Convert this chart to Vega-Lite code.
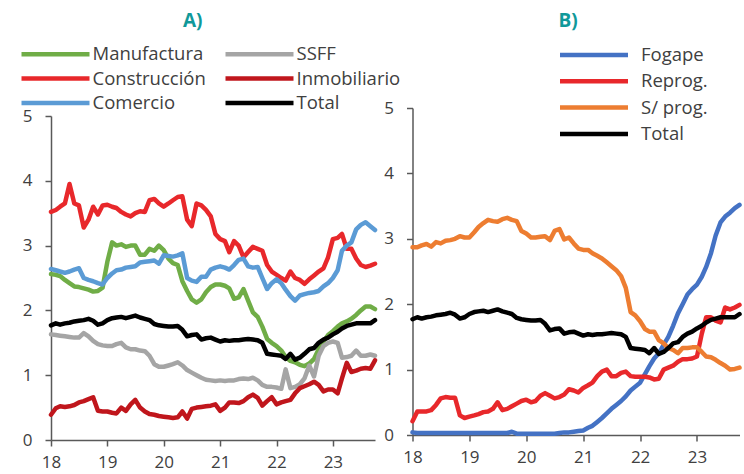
{
"$schema": "https://vega.github.io/schema/vega-lite/v6.json",
"padding": {"left": 22, "top": 12, "right": 0, "bottom": 0},
"spacing": -17.5,
"align": "none",
"data": {"format": {"parse": {"d": "utc:'%Y-%m'"}}, "values": [
{"d":"2018-01","Manufactura":2.56,"SSFF":1.63,"Construcción":3.52,"Inmobiliario":0.39,"Comercio":2.64,"Total":1.77,"Fogape":0.04,"Reprog":0.21,"SProg":2.87},
{"d":"2018-02","Manufactura":2.55,"SSFF":1.62,"Construcción":3.55,"Inmobiliario":0.49,"Comercio":2.62,"Total":1.80,"Fogape":0.03,"Reprog":0.36,"SProg":2.87},
{"d":"2018-03","Manufactura":2.53,"SSFF":1.61,"Construcción":3.60,"Inmobiliario":0.52,"Comercio":2.60,"Total":1.78,"Fogape":0.03,"Reprog":0.36,"SProg":2.90},
{"d":"2018-04","Manufactura":2.47,"SSFF":1.60,"Construcción":3.65,"Inmobiliario":0.51,"Comercio":2.58,"Total":1.80,"Fogape":0.03,"Reprog":0.36,"SProg":2.92},
{"d":"2018-05","Manufactura":2.42,"SSFF":1.59,"Construcción":3.95,"Inmobiliario":0.52,"Comercio":2.60,"Total":1.81,"Fogape":0.03,"Reprog":0.38,"SProg":2.88},
{"d":"2018-06","Manufactura":2.37,"SSFF":1.58,"Construcción":3.65,"Inmobiliario":0.54,"Comercio":2.63,"Total":1.83,"Fogape":0.03,"Reprog":0.46,"SProg":2.95},
{"d":"2018-07","Manufactura":2.36,"SSFF":1.58,"Construcción":3.62,"Inmobiliario":0.58,"Comercio":2.65,"Total":1.84,"Fogape":0.03,"Reprog":0.56,"SProg":2.93},
{"d":"2018-08","Manufactura":2.34,"SSFF":1.65,"Construcción":3.28,"Inmobiliario":0.60,"Comercio":2.50,"Total":1.85,"Fogape":0.03,"Reprog":0.58,"SProg":2.97},
{"d":"2018-09","Manufactura":2.32,"SSFF":1.60,"Construcción":3.40,"Inmobiliario":0.63,"Comercio":2.47,"Total":1.87,"Fogape":0.03,"Reprog":0.57,"SProg":2.98},
{"d":"2018-10","Manufactura":2.29,"SSFF":1.53,"Construcción":3.60,"Inmobiliario":0.66,"Comercio":2.45,"Total":1.84,"Fogape":0.03,"Reprog":0.57,"SProg":3.00},
{"d":"2018-11","Manufactura":2.30,"SSFF":1.48,"Construcción":3.48,"Inmobiliario":0.45,"Comercio":2.42,"Total":1.78,"Fogape":0.03,"Reprog":0.30,"SProg":3.04},
{"d":"2018-12","Manufactura":2.35,"SSFF":1.46,"Construcción":3.62,"Inmobiliario":0.44,"Comercio":2.40,"Total":1.80,"Fogape":0.03,"Reprog":0.26,"SProg":3.02},
{"d":"2019-01","Manufactura":2.75,"SSFF":1.45,"Construcción":3.63,"Inmobiliario":0.44,"Comercio":2.50,"Total":1.85,"Fogape":0.03,"Reprog":0.28,"SProg":3.02},
{"d":"2019-02","Manufactura":3.05,"SSFF":1.45,"Construcción":3.60,"Inmobiliario":0.42,"Comercio":2.57,"Total":1.88,"Fogape":0.03,"Reprog":0.30,"SProg":3.10},
{"d":"2019-03","Manufactura":3.00,"SSFF":1.48,"Construcción":3.58,"Inmobiliario":0.41,"Comercio":2.62,"Total":1.89,"Fogape":0.03,"Reprog":0.32,"SProg":3.18},
{"d":"2019-04","Manufactura":3.02,"SSFF":1.50,"Construcción":3.52,"Inmobiliario":0.50,"Comercio":2.63,"Total":1.90,"Fogape":0.03,"Reprog":0.35,"SProg":3.24},
{"d":"2019-05","Manufactura":2.98,"SSFF":1.43,"Construcción":3.48,"Inmobiliario":0.45,"Comercio":2.66,"Total":1.88,"Fogape":0.03,"Reprog":0.36,"SProg":3.29},
{"d":"2019-06","Manufactura":3.00,"SSFF":1.40,"Construcción":3.45,"Inmobiliario":0.55,"Comercio":2.67,"Total":1.90,"Fogape":0.03,"Reprog":0.40,"SProg":3.27},
{"d":"2019-07","Manufactura":3.00,"SSFF":1.40,"Construcción":3.50,"Inmobiliario":0.62,"Comercio":2.68,"Total":1.92,"Fogape":0.03,"Reprog":0.50,"SProg":3.26},
{"d":"2019-08","Manufactura":2.86,"SSFF":1.38,"Construcción":3.53,"Inmobiliario":0.50,"Comercio":2.74,"Total":1.89,"Fogape":0.03,"Reprog":0.38,"SProg":3.30},
{"d":"2019-09","Manufactura":2.86,"SSFF":1.37,"Construcción":3.52,"Inmobiliario":0.44,"Comercio":2.75,"Total":1.87,"Fogape":0.03,"Reprog":0.40,"SProg":3.32},
{"d":"2019-10","Manufactura":2.95,"SSFF":1.30,"Construcción":3.70,"Inmobiliario":0.40,"Comercio":2.76,"Total":1.85,"Fogape":0.05,"Reprog":0.44,"SProg":3.29},
{"d":"2019-11","Manufactura":2.92,"SSFF":1.17,"Construcción":3.72,"Inmobiliario":0.39,"Comercio":2.77,"Total":1.79,"Fogape":0.02,"Reprog":0.48,"SProg":3.27},
{"d":"2019-12","Manufactura":3.00,"SSFF":1.13,"Construcción":3.65,"Inmobiliario":0.37,"Comercio":2.72,"Total":1.77,"Fogape":0.02,"Reprog":0.52,"SProg":3.12},
{"d":"2020-01","Manufactura":2.93,"SSFF":1.13,"Construcción":3.60,"Inmobiliario":0.36,"Comercio":2.85,"Total":1.76,"Fogape":0.02,"Reprog":0.54,"SProg":3.08},
{"d":"2020-02","Manufactura":2.80,"SSFF":1.15,"Construcción":3.65,"Inmobiliario":0.35,"Comercio":2.84,"Total":1.75,"Fogape":0.02,"Reprog":0.50,"SProg":3.02},
{"d":"2020-03","Manufactura":2.73,"SSFF":1.17,"Construcción":3.70,"Inmobiliario":0.34,"Comercio":2.83,"Total":1.75,"Fogape":0.02,"Reprog":0.52,"SProg":3.02},
{"d":"2020-04","Manufactura":2.70,"SSFF":1.20,"Construcción":3.75,"Inmobiliario":0.35,"Comercio":2.85,"Total":1.76,"Fogape":0.02,"Reprog":0.60,"SProg":3.03},
{"d":"2020-05","Manufactura":2.45,"SSFF":1.15,"Construcción":3.76,"Inmobiliario":0.44,"Comercio":2.88,"Total":1.70,"Fogape":0.02,"Reprog":0.64,"SProg":3.04},
{"d":"2020-06","Manufactura":2.30,"SSFF":1.08,"Construcción":3.40,"Inmobiliario":0.33,"Comercio":2.50,"Total":1.60,"Fogape":0.02,"Reprog":0.60,"SProg":2.98},
{"d":"2020-07","Manufactura":2.17,"SSFF":1.04,"Construcción":3.30,"Inmobiliario":0.48,"Comercio":2.46,"Total":1.62,"Fogape":0.02,"Reprog":0.56,"SProg":3.12},
{"d":"2020-08","Manufactura":2.12,"SSFF":1.00,"Construcción":3.65,"Inmobiliario":0.50,"Comercio":2.44,"Total":1.63,"Fogape":0.03,"Reprog":0.58,"SProg":3.15},
{"d":"2020-09","Manufactura":2.17,"SSFF":0.96,"Construcción":3.62,"Inmobiliario":0.51,"Comercio":2.52,"Total":1.55,"Fogape":0.04,"Reprog":0.62,"SProg":2.99},
{"d":"2020-10","Manufactura":2.28,"SSFF":0.93,"Construcción":3.55,"Inmobiliario":0.52,"Comercio":2.52,"Total":1.57,"Fogape":0.04,"Reprog":0.70,"SProg":3.02},
{"d":"2020-11","Manufactura":2.36,"SSFF":0.92,"Construcción":3.45,"Inmobiliario":0.53,"Comercio":2.63,"Total":1.58,"Fogape":0.05,"Reprog":0.68,"SProg":2.93},
{"d":"2020-12","Manufactura":2.40,"SSFF":0.91,"Construcción":3.18,"Inmobiliario":0.55,"Comercio":2.66,"Total":1.55,"Fogape":0.06,"Reprog":0.65,"SProg":2.85},
{"d":"2021-01","Manufactura":2.40,"SSFF":0.92,"Construcción":3.10,"Inmobiliario":0.45,"Comercio":2.68,"Total":1.52,"Fogape":0.07,"Reprog":0.72,"SProg":2.83},
{"d":"2021-02","Manufactura":2.38,"SSFF":0.91,"Construcción":3.07,"Inmobiliario":0.50,"Comercio":2.66,"Total":1.54,"Fogape":0.11,"Reprog":0.76,"SProg":2.83},
{"d":"2021-03","Manufactura":2.34,"SSFF":0.92,"Construcción":2.90,"Inmobiliario":0.58,"Comercio":2.63,"Total":1.53,"Fogape":0.14,"Reprog":0.80,"SProg":2.78},
{"d":"2021-04","Manufactura":2.18,"SSFF":0.92,"Construcción":3.07,"Inmobiliario":0.58,"Comercio":2.70,"Total":1.54,"Fogape":0.20,"Reprog":0.90,"SProg":2.74},
{"d":"2021-05","Manufactura":2.20,"SSFF":0.94,"Construcción":3.00,"Inmobiliario":0.57,"Comercio":2.78,"Total":1.54,"Fogape":0.26,"Reprog":0.97,"SProg":2.70},
{"d":"2021-06","Manufactura":2.33,"SSFF":0.95,"Construcción":2.82,"Inmobiliario":0.60,"Comercio":2.80,"Total":1.55,"Fogape":0.33,"Reprog":1.00,"SProg":2.64},
{"d":"2021-07","Manufactura":2.15,"SSFF":0.94,"Construcción":2.90,"Inmobiliario":0.66,"Comercio":2.68,"Total":1.56,"Fogape":0.40,"Reprog":0.90,"SProg":2.58},
{"d":"2021-08","Manufactura":1.97,"SSFF":0.96,"Construcción":2.98,"Inmobiliario":0.70,"Comercio":2.66,"Total":1.55,"Fogape":0.46,"Reprog":0.90,"SProg":2.52},
{"d":"2021-09","Manufactura":1.90,"SSFF":0.92,"Construcción":2.95,"Inmobiliario":0.65,"Comercio":2.67,"Total":1.54,"Fogape":0.52,"Reprog":0.95,"SProg":2.43},
{"d":"2021-10","Manufactura":1.75,"SSFF":0.85,"Construcción":2.92,"Inmobiliario":0.53,"Comercio":2.50,"Total":1.50,"Fogape":0.59,"Reprog":0.97,"SProg":2.25},
{"d":"2021-11","Manufactura":1.56,"SSFF":0.82,"Construcción":2.70,"Inmobiliario":0.60,"Comercio":2.33,"Total":1.33,"Fogape":0.68,"Reprog":0.90,"SProg":1.88},
{"d":"2021-12","Manufactura":1.50,"SSFF":0.82,"Construcción":2.60,"Inmobiliario":0.66,"Comercio":2.42,"Total":1.32,"Fogape":0.74,"Reprog":0.89,"SProg":1.83},
{"d":"2022-01","Manufactura":1.45,"SSFF":0.81,"Construcción":2.55,"Inmobiliario":0.55,"Comercio":2.48,"Total":1.31,"Fogape":0.80,"Reprog":0.89,"SProg":1.74},
{"d":"2022-02","Manufactura":1.38,"SSFF":0.79,"Construcción":2.50,"Inmobiliario":0.58,"Comercio":2.42,"Total":1.30,"Fogape":0.93,"Reprog":0.89,"SProg":1.62},
{"d":"2022-03","Manufactura":1.28,"SSFF":1.09,"Construcción":2.46,"Inmobiliario":0.60,"Comercio":2.32,"Total":1.25,"Fogape":1.05,"Reprog":0.88,"SProg":1.58},
{"d":"2022-04","Manufactura":1.22,"SSFF":0.80,"Construcción":2.60,"Inmobiliario":0.62,"Comercio":2.22,"Total":1.33,"Fogape":1.17,"Reprog":0.85,"SProg":1.58},
{"d":"2022-05","Manufactura":1.20,"SSFF":0.82,"Construcción":2.50,"Inmobiliario":0.72,"Comercio":2.15,"Total":1.24,"Fogape":1.25,"Reprog":0.86,"SProg":1.45},
{"d":"2022-06","Manufactura":1.16,"SSFF":0.86,"Construcción":2.47,"Inmobiliario":0.80,"Comercio":2.23,"Total":1.27,"Fogape":1.38,"Reprog":1.00,"SProg":1.40},
{"d":"2022-07","Manufactura":1.14,"SSFF":0.95,"Construcción":2.41,"Inmobiliario":0.83,"Comercio":2.25,"Total":1.33,"Fogape":1.50,"Reprog":1.03,"SProg":1.33},
{"d":"2022-08","Manufactura":1.18,"SSFF":1.15,"Construcción":2.48,"Inmobiliario":0.86,"Comercio":2.27,"Total":1.40,"Fogape":1.67,"Reprog":1.06,"SProg":1.30},
{"d":"2022-09","Manufactura":1.25,"SSFF":0.98,"Construcción":2.54,"Inmobiliario":0.90,"Comercio":2.28,"Total":1.42,"Fogape":1.86,"Reprog":1.12,"SProg":1.25},
{"d":"2022-10","Manufactura":1.40,"SSFF":1.30,"Construcción":2.60,"Inmobiliario":0.85,"Comercio":2.30,"Total":1.50,"Fogape":2.00,"Reprog":1.16,"SProg":1.33},
{"d":"2022-11","Manufactura":1.52,"SSFF":1.45,"Construcción":2.65,"Inmobiliario":0.75,"Comercio":2.37,"Total":1.55,"Fogape":2.15,"Reprog":1.16,"SProg":1.33},
{"d":"2022-12","Manufactura":1.62,"SSFF":1.50,"Construcción":2.82,"Inmobiliario":0.78,"Comercio":2.42,"Total":1.58,"Fogape":2.23,"Reprog":1.17,"SProg":1.34},
{"d":"2023-01","Manufactura":1.68,"SSFF":1.52,"Construcción":3.10,"Inmobiliario":0.78,"Comercio":2.50,"Total":1.63,"Fogape":2.30,"Reprog":1.20,"SProg":1.34},
{"d":"2023-02","Manufactura":1.75,"SSFF":1.50,"Construcción":3.12,"Inmobiliario":0.72,"Comercio":2.62,"Total":1.67,"Fogape":2.42,"Reprog":1.55,"SProg":1.27},
{"d":"2023-03","Manufactura":1.80,"SSFF":1.27,"Construcción":3.18,"Inmobiliario":0.95,"Comercio":2.92,"Total":1.72,"Fogape":2.57,"Reprog":1.80,"SProg":1.20},
{"d":"2023-04","Manufactura":1.83,"SSFF":1.28,"Construcción":2.95,"Inmobiliario":1.19,"Comercio":3.00,"Total":1.76,"Fogape":2.78,"Reprog":1.80,"SProg":1.19},
{"d":"2023-05","Manufactura":1.87,"SSFF":1.30,"Construcción":2.95,"Inmobiliario":1.05,"Comercio":3.05,"Total":1.78,"Fogape":3.05,"Reprog":1.75,"SProg":1.15},
{"d":"2023-06","Manufactura":1.93,"SSFF":1.38,"Construcción":2.80,"Inmobiliario":1.07,"Comercio":3.25,"Total":1.80,"Fogape":3.25,"Reprog":1.72,"SProg":1.10},
{"d":"2023-07","Manufactura":2.00,"SSFF":1.30,"Construcción":2.70,"Inmobiliario":1.10,"Comercio":3.32,"Total":1.80,"Fogape":3.34,"Reprog":1.95,"SProg":1.06},
{"d":"2023-08","Manufactura":2.06,"SSFF":1.30,"Construcción":2.67,"Inmobiliario":1.11,"Comercio":3.36,"Total":1.80,"Fogape":3.40,"Reprog":1.92,"SProg":1.00},
{"d":"2023-09","Manufactura":2.06,"SSFF":1.32,"Construcción":2.69,"Inmobiliario":1.10,"Comercio":3.30,"Total":1.80,"Fogape":3.47,"Reprog":1.95,"SProg":1.01},
{"d":"2023-10","Manufactura":2.02,"SSFF":1.30,"Construcción":2.72,"Inmobiliario":1.23,"Comercio":3.24,"Total":1.85,"Fogape":3.52,"Reprog":1.99,"SProg":1.03}
]},
"config": {
  "view": {"stroke": null},
  "font": "Open Sans",
  "axis": {"domainColor": "#595959", "domainWidth": 1.5, "tickColor": "#595959", "tickWidth": 1.5, "tickSize": 6, "labelFont": "Open Sans", "labelFontSize": 17, "labelColor": "#404040", "grid": false, "title": null, "labelFlush": false, "labelOverlap": false, "labelBound": false},
  "legend": {"orient": "none", "symbolType": "M-4,0H4", "symbolSize": 289, "symbolStrokeWidth": 4.5, "labelFont": "Open Sans", "labelFontSize": 18.5, "labelColor": "#404040", "labelOffset": 26, "labelLimit": 300, "padding": 0, "title": null}
},
"resolve": {"scale": {"color": "independent", "x": "independent", "y": "independent"}, "legend": {"color": "independent"}},
"hconcat": [
{
  "width": 324, "height": 324,
  "title": {"text": "A)", "anchor": "start", "frame": "group", "dx": 132, "offset": 11.8, "fontSize": 19, "fontWeight": "bold", "color": "#10999a", "font": "Open Sans"},
  "transform": [{"fold": ["Manufactura", "Construcción", "Comercio", "SSFF", "Inmobiliario", "Total"], "as": ["serie", "valor"]}],
  "mark": {"type": "line", "strokeWidth": 4.5, "strokeJoin": "round", "strokeCap": "round"},
  "encoding": {
    "x": {"field": "d", "type": "temporal", "scale": {"type": "utc", "domain": [{"year": 2018, "month": 1, "date": 1, "utc": true}, {"year": 2023, "month": 10, "date": 1, "utc": true}]},
          "axis": {"values": [{"year": 2018, "utc": true}, {"year": 2019, "utc": true}, {"year": 2020, "utc": true}, {"year": 2021, "utc": true}, {"year": 2022, "utc": true}, {"year": 2023, "utc": true}], "format": "%y", "labelPadding": 8, "labelAngle": 0}},
    "y": {"field": "valor", "type": "quantitative", "scale": {"domain": [0, 5], "nice": false}, "axis": {"values": [0, 1, 2, 3, 4, 5], "labelPadding": 13}},
    "color": {"field": "serie", "type": "nominal",
              "scale": {"domain": ["Manufactura", "Construcción", "Comercio", "SSFF", "Inmobiliario", "Total"], "range": ["#70ad47", "#e8282b", "#5b9bd5", "#a5a5a5", "#c0161c", "#000000"]},
              "legend": {"legendX": -6.5, "legendY": -73, "columns": 2, "columnPadding": 10, "rowPadding": 3.5}}
  }
},
{
  "width": 327, "height": 319,
  "title": {"text": "B)", "anchor": "start", "frame": "group", "dx": 146, "offset": 12.8, "fontSize": 19, "fontWeight": "bold", "color": "#10999a", "font": "Open Sans"},
  "transform": [{"fold": ["Fogape", "Reprog", "SProg", "Total"], "as": ["serie", "valor"]}],
  "mark": {"type": "line", "strokeWidth": 4.5, "strokeJoin": "round", "strokeCap": "round"},
  "encoding": {
    "x": {"field": "d", "type": "temporal", "scale": {"type": "utc", "domain": [{"year": 2018, "month": 1, "date": 1, "utc": true}, {"year": 2023, "month": 10, "date": 1, "utc": true}]},
          "axis": {"values": [{"year": 2018, "utc": true}, {"year": 2019, "utc": true}, {"year": 2020, "utc": true}, {"year": 2021, "utc": true}, {"year": 2022, "utc": true}, {"year": 2023, "utc": true}], "format": "%y", "labelPadding": 8, "labelAngle": 0}},
    "y": {"field": "valor", "type": "quantitative", "scale": {"domain": [0, 5], "nice": false, "range": [319, -8]}, "axis": {"values": [0, 1, 2, 3, 4, 5], "labelPadding": 13}},
    "color": {"field": "serie", "type": "nominal",
              "scale": {"domain": ["Fogape", "Reprog", "SProg", "Total"], "range": ["#4472c4", "#e8282b", "#ed7d31", "#000000"]},
              "legend": {"legendX": 170.5, "legendY": -72, "columns": 1, "rowPadding": 5.3, "labelOffset": 36, "labelExpr": "datum.label == 'Reprog' ? 'Reprog.' : datum.label == 'SProg' ? 'S/ prog.' : datum.label"}}
  }
}
]
}
